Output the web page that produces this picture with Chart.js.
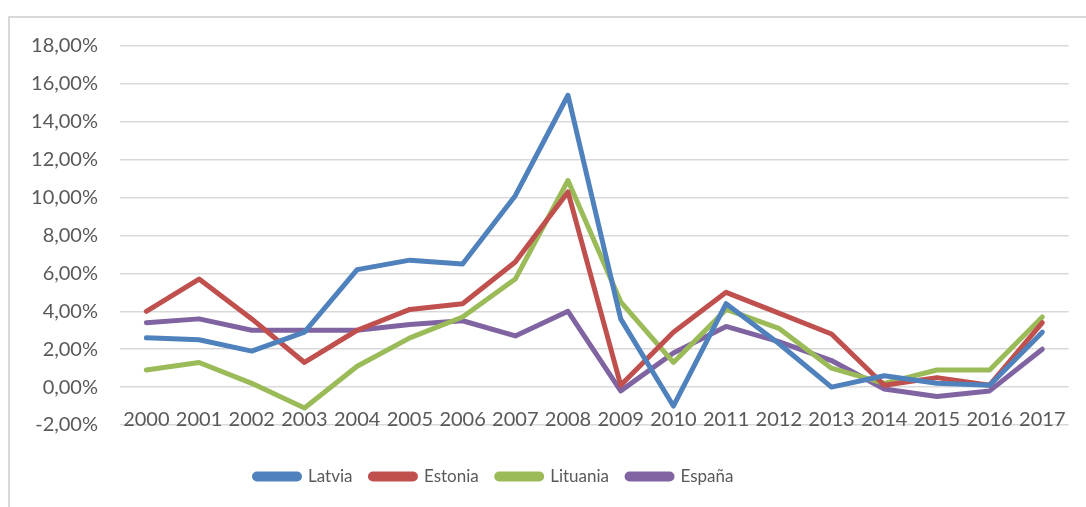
<!DOCTYPE html>
<html>
<head>
<meta charset="utf-8">
<script src="https://cdn.jsdelivr.net/npm/chart.js@4.4.1/dist/chart.umd.min.js"></script>
<style>
  html, body { margin: 0; padding: 0; background: #fff; overflow: hidden; }
  #wrap { position: relative; width: 1086px; height: 507px; }
  #frame { position: absolute; left: 8px; top: 16px; width: 2000px; height: 1000px;
           border-top: 2px solid #d9d9d9; border-left: 2px solid #d9d9d9; pointer-events: none; }
  canvas { position: absolute; left: 0; top: 0; }
</style>
</head>
<body>
<div id="wrap">
  <div id="frame"></div>
  <canvas id="c" width="1086" height="507"></canvas>
</div>
<script>
const years = ['2000','2001','2002','2003','2004','2005','2006','2007','2008','2009','2010','2011','2012','2013','2014','2015','2016','2017'];
const latvia   = [2.6, 2.5, 1.9, 2.9, 6.2, 6.7, 6.5, 10.1, 15.4, 3.6, -1.0, 4.4, 2.3, 0.0, 0.6, 0.2, 0.1, 2.9];
const estonia  = [4.0, 5.7, 3.6, 1.3, 3.0, 4.1, 4.4, 6.6, 10.3, 0.1, 2.9, 5.0, 3.9, 2.8, 0.1, 0.5, 0.1, 3.4];
const lituania = [0.9, 1.3, 0.2, -1.1, 1.1, 2.6, 3.7, 5.7, 10.9, 4.5, 1.3, 4.1, 3.1, 1.0, 0.2, 0.9, 0.9, 3.7];
const espana   = [3.4, 3.6, 3.0, 3.0, 3.0, 3.3, 3.5, 2.7, 4.0, -0.2, 1.8, 3.2, 2.4, 1.4, -0.1, -0.5, -0.2, 2.0];
const seriesNames = ['Latvia', 'Estonia', 'Lituania', 'España'];
const seriesColors = ['#4F81BD', '#C0504D', '#9BBB59', '#8064A2'];
const yMin = -2, yMax = 18, yStep = 2;

const allSeries = [latvia, estonia, lituania, espana];
const datasets = allSeries.map((d, i) => ({
  label: seriesNames[i],
  data: d,
  borderColor: seriesColors[i],
  backgroundColor: seriesColors[i],
  borderWidth: 5,
  pointRadius: 0,
  pointHoverRadius: 0,
  tension: 0,
  borderJoinStyle: 'round',
  borderCapStyle: 'round',
  fill: false
}));

// Shift the legend block left, as in the reference (Excel centres it off-axis)
const legendShift = {
  id: 'legendShift',
  afterLayout(chart) {
    const lg = chart.legend;
    if (lg) { lg.left -= 51; lg.right -= 51; }
  }
};

const FONT = 'Lato';
new Chart(document.getElementById('c'), {
  type: 'line',
  data: { labels: years, datasets },
  plugins: [legendShift],
  options: {
    responsive: false,
    animation: false,
    layout: { padding: { left: 20, right: 16, top: 46, bottom: 12 } },
    plugins: {
      tooltip: { enabled: false },
      legend: {
        position: 'bottom',
        labels: {
          font: { family: FONT, size: 17 },
          color: '#595959',
          boxWidth: 45,
          boxHeight: 5,
          padding: 18,
          useBorderRadius: true,
          borderRadius: 2.5
        }
      }
    },
    scales: {
      x: {
        type: 'category',
        position: { y: 0 },
        offset: true,
        grid: { display: false, drawTicks: false },
        border: { display: false },
        ticks: {
          font: { family: FONT, size: 20 },
          color: '#595959',
          autoSkip: false,
          maxRotation: 0,
          minRotation: 0,
          padding: 20
        }
      },
      x2: {
        type: 'category',
        labels: years,
        position: 'bottom',
        display: true,
        grid: { display: false, drawTicks: false },
        border: { display: false },
        ticks: { display: false },
        afterFit: (s) => { s.height = 25; }
      },
      y: {
        min: yMin,
        max: yMax,
        grid: { color: '#d9d9d9', lineWidth: 1.5, drawTicks: false },
        border: { display: false },
        ticks: {
          stepSize: yStep,
          font: { family: FONT, size: 20 },
          color: '#595959',
          padding: 22,
          callback: (v) => v.toFixed(2).replace('.', ',') + '%'
        },
        afterFit: (s) => { s.width = 100; }
      }
    }
  }
});
</script>
</body>
</html>
